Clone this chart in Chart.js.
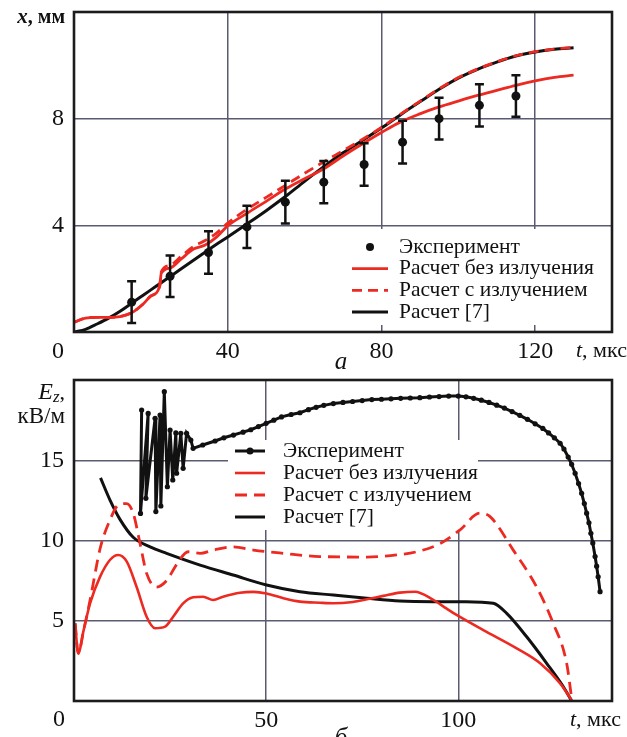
<!DOCTYPE html>
<html>
<head>
<meta charset="utf-8">
<script src="https://cdn.jsdelivr.net/npm/chart.js@4.4.1/dist/chart.umd.min.js"></script>
<style>
  body { margin: 0; background: #fff; width: 627px; height: 737px; overflow: hidden; }
  .panel { position: absolute; left: 0; width: 627px; }
</style>
</head>
<body>
<div class="panel" style="top:0;height:370px"><canvas id="chartA"></canvas></div>
<div class="panel" style="top:370px;height:367px"><canvas id="chartB"></canvas></div>
<script>
// ---- panel a: x(t), mm ----
const tCalcA  = [0, 3, 6, 9, 12, 15, 18, 20, 22.3, 22.7, 25, 28, 31, 34, 37, 40, 45, 50, 55, 60, 65, 70, 75, 80, 85, 90, 95, 100, 105, 110, 115, 120, 125, 130];
const xRef7A  = [0, 0.1, 0.3, 0.52, 0.78, 1.08, 1.38, 1.58, 1.81, 1.85, 2.08, 2.38, 2.68, 2.98, 3.28, 3.56, 4.05, 4.55, 5.08, 5.65, 6.2, 6.72, 7.18, 7.65, 8.15, 8.63, 9.1, 9.52, 9.85, 10.12, 10.35, 10.5, 10.6, 10.66];
const xNoRadA = [0.37, 0.52, 0.55, 0.55, 0.58, 0.72, 1.05, 1.35, 1.72, 2.2, 2.4, 2.75, 3.1, 3.25, 3.55, 3.98, 4.45, 4.9, 5.36, 5.75, 6.12, 6.6, 7.05, 7.48, 7.88, 8.18, 8.44, 8.66, 8.87, 9.06, 9.25, 9.42, 9.55, 9.63];
const xRadA   = [0.37, 0.52, 0.55, 0.55, 0.58, 0.72, 1.05, 1.35, 1.72, 2.25, 2.5, 2.85, 3.2, 3.42, 3.7, 4.08, 4.6, 5.05, 5.5, 5.95, 6.38, 6.8, 7.22, 7.67, 8.17, 8.65, 9.12, 9.54, 9.86, 10.13, 10.36, 10.51, 10.61, 10.67];
const tExpA   = [15, 25, 35, 45, 55, 65, 75.5, 85.5, 95, 105.5, 115];
const xExpA   = [1.12, 2.09, 2.98, 3.94, 4.87, 5.62, 6.28, 7.12, 8.0, 8.5, 8.85];
const xErrA   = [0.78, 0.78, 0.8, 0.79, 0.8, 0.79, 0.8, 0.8, 0.78, 0.79, 0.78];
const tTicksA = [40, 80, 120];
const xTicksA = [4, 8];

// ---- panel b: Ez(t), kV/m ----
const tExpB = [17.6, 17.3, 19.3, 18.7, 21.1, 21.3, 22.4, 22.6, 23.5, 24.3, 25.0, 25.7, 26.5, 26.7, 27.8, 28.4, 29.3, 30.4, 31,
  33.5, 36.7, 39, 41.5, 44, 46, 48, 50, 52, 54, 56.5, 58.8, 61, 63, 65, 67.5, 70, 72.5, 75, 77.5, 80, 82.5, 85, 87.5, 90, 92.5, 95, 97.5, 100,
  102, 104, 106, 108, 110, 112, 114, 116, 118, 120, 122, 123.5, 125, 126.5, 127.5, 128.6, 129.5, 130.4, 131.3, 132.1, 132.8, 133.4, 134, 134.5, 135, 135.6, 136, 136.4, 136.9];
const eExpB = [18.13, 11.69, 17.92, 12.63, 17.61, 11.8, 17.82, 12.15, 19.27, 13.35, 16.88, 13.77, 16.7, 14.19, 16.68, 14.5, 16.68, 16.26, 15.74,
  15.95, 16.2, 16.4, 16.57, 16.75, 16.9, 17.1, 17.3, 17.5, 17.7, 17.85, 17.96, 18.15, 18.3, 18.42, 18.53, 18.6, 18.66, 18.72, 18.78, 18.8, 18.83, 18.86, 18.88, 18.9, 18.94, 18.97, 19.0, 19.0,
  18.95, 18.86, 18.74, 18.6, 18.43, 18.25, 18.03, 17.8, 17.55, 17.27, 16.98, 16.7, 16.4, 16.06, 15.7, 15.2, 14.75, 14.19, 13.55, 12.94, 12.3, 11.7, 11.1, 10.45, 9.85, 9.0, 8.4, 7.74, 6.81];

const tNoRadB = [0.3, 1.1, 2.5, 4.2, 6.8, 9.4, 11.5, 13.7, 16.3, 18.9, 21.1, 23.7, 25.8, 28.4, 31, 33.6, 36.2, 38.8, 43.2, 46.7, 50.1, 54.5, 58.8, 64, 67.5, 72, 76.2, 80.5, 84.8, 88.7, 93.5, 97, 100, 106.5, 115.2, 121.3, 126.5, 129.5];
const eNoRadB = [4.84, 2.97, 4.4, 6.1, 7.75, 8.8, 9.1, 8.7, 7.1, 5.25, 4.53, 4.63, 5.25, 6.08, 6.46, 6.5, 6.29, 6.5, 6.75, 6.8, 6.7, 6.4, 6.19, 6.12, 6.09, 6.15, 6.34, 6.55, 6.75, 6.81, 6.3, 5.75, 5.3, 4.42, 3.28, 2.35, 1.1, 0.06];

const tRadB = [0.3, 1.1, 2.5, 4.2, 6.8, 9.4, 11.5, 13.7, 15.4, 17.2, 18.9, 21.5, 24.1, 26.7, 29.7, 32.8, 36.2, 41.4, 46.7, 54.5, 64, 76.2, 84, 89.2, 95.2, 100.4, 105.6, 108.2, 114.3, 120.4, 124.7, 128.2, 129.5];
const eRadB = [4.84, 2.97, 4.4, 6.3, 9.5, 11.3, 12.2, 12.3, 11.7, 9.8, 7.95, 7.1, 7.5, 8.5, 9.3, 9.2, 9.4, 9.6, 9.4, 9.2, 9.0, 8.97, 9.1, 9.3, 9.8, 10.65, 11.7, 11.5, 9.4, 7.1, 4.84, 2.35, 0.17];

const tRef7B = [6.9, 9.4, 12, 15.4, 19.8, 24.1, 32.8, 41.4, 50.1, 58.8, 67.5, 76.2, 84.8, 93.5, 102, 109.1, 112.6, 117.8, 123, 127.3, 129.5];
const eRef7B = [13.9, 12.5, 11.3, 10.2, 9.6, 9.2, 8.47, 7.85, 7.23, 6.81, 6.6, 6.4, 6.23, 6.19, 6.19, 6.09, 5.46, 4.0, 2.35, 0.9, 0];
const tTicksB = [50, 100];
const eTicksB = [5, 10, 15];

const seriesNames = ['Эксперимент', 'Расчет без излучения', 'Расчет с излучением', 'Расчет [7]'];

const RED = '#ec2a22';
const BLACK = '#111111';
const GRID = '#5a5a70';
const SERIF = '"Liberation Serif", "DejaVu Serif", serif';

function pts(xs, ys) {
  return xs.map((x, i) => ({ x: x, y: ys[i] }));
}
function font(style, size) {
  return style + ' ' + size + 'px ' + SERIF;
}

// draws a run of differently styled text pieces
function drawRuns(ctx, runs, x, y, align) {
  const widths = runs.map(r => { ctx.font = r.font; return ctx.measureText(r.text).width; });
  const total = widths.reduce((a, b) => a + b, 0);
  let cx = align === 'right' ? x - total : (align === 'center' ? x - total / 2 : x);
  runs.forEach((r, i) => {
    ctx.font = r.font;
    ctx.fillText(r.text, cx, y + (r.dy || 0));
    cx += widths[i];
  });
}

// legend box (under the data), error bars, frame and captions
const panelDecor = {
  id: 'panelDecor',
  beforeDatasetsDraw(chart, args, opts) {
    const ctx = chart.ctx;
    const lg = opts.legend;
    ctx.save();
    ctx.fillStyle = '#fff';
    ctx.fillRect(lg.boxX, lg.boxY, lg.boxW, lg.boxH);
    ctx.textBaseline = 'middle';
    ctx.textAlign = 'left';
    chart.data.datasets.forEach((ds, i) => {
      const y = lg.y + i * lg.rowH;
      if (ds.showLine !== false) {
        ctx.strokeStyle = ds.borderColor;
        ctx.lineWidth = ds.borderWidth;
        ctx.setLineDash(ds.borderDash || []);
        ctx.beginPath();
        ctx.moveTo(lg.x, y); ctx.lineTo(lg.x + lg.len, y);
        ctx.stroke();
        ctx.setLineDash([]);
      }
      if (ds.pointRadius > 0) {
        ctx.fillStyle = BLACK;
        ctx.beginPath();
        ctx.arc(lg.x + lg.len / 2, y, lg.dot, 0, Math.PI * 2);
        ctx.fill();
      }
      ctx.fillStyle = BLACK;
      ctx.font = font('', lg.size);
      ctx.fillText(ds.label, lg.textX, y);
    });
    ctx.restore();
  },
  afterDatasetsDraw(chart) {
    const ctx = chart.ctx, area = chart.chartArea;
    const xs = chart.scales.x, ys = chart.scales.y;
    ctx.save();
    chart.data.datasets.forEach(ds => {
      if (!ds.errorBars) return;
      ctx.strokeStyle = BLACK;
      ctx.lineWidth = 2.5;
      ds.data.forEach((p, i) => {
        const px = xs.getPixelForValue(p.x);
        const top = ys.getPixelForValue(p.y + ds.errorBars[i]);
        const bot = ys.getPixelForValue(p.y - ds.errorBars[i]);
        ctx.beginPath();
        ctx.moveTo(px, top); ctx.lineTo(px, bot);
        ctx.moveTo(px - 4.5, top); ctx.lineTo(px + 4.5, top);
        ctx.moveTo(px - 4.5, bot); ctx.lineTo(px + 4.5, bot);
        ctx.stroke();
      });
    });
    ctx.strokeStyle = '#1c1c1c';
    ctx.lineWidth = 2.6;
    ctx.strokeRect(area.left, area.top, area.right - area.left, area.bottom - area.top);
    ctx.restore();
  },
  afterDraw(chart, args, opts) {
    const ctx = chart.ctx;
    ctx.save();
    ctx.fillStyle = BLACK;
    ctx.textBaseline = 'middle';
    ctx.textAlign = 'left';
    opts.captions.forEach(c => drawRuns(ctx, c.runs, c.x, c.y, c.align));
    ctx.restore();
  }
};

function makePanel(canvasId, cfg) {
  return new Chart(document.getElementById(canvasId), {
    type: 'line',
    data: { datasets: cfg.datasets },
    options: {
      responsive: true,
      maintainAspectRatio: false,
      animation: false,
      layout: { padding: cfg.padding },
      plugins: {
        legend: { display: false },
        tooltip: { enabled: false },
        panelDecor: { legend: cfg.legend, captions: cfg.captions }
      },
      scales: {
        x: {
          type: 'linear',
          min: 0,
          max: 140,
          border: { display: false },
          grid: { color: GRID, lineWidth: 1.5, drawTicks: false },
          ticks: {
            stepSize: cfg.xStep,
            padding: 5,
            color: BLACK,
            font: { family: SERIF, size: 24 },
            maxRotation: 0,
            callback: v => cfg.xLabels.includes(v) ? String(v) : ''
          },
          afterFit: s => { s.height = cfg.xAxisHeight; s.paddingLeft = 0; s.paddingRight = 0; }
        },
        y: {
          type: 'linear',
          min: 0,
          max: cfg.yMax,
          border: { display: false },
          grid: { color: GRID, lineWidth: 1.5, drawTicks: false },
          ticks: {
            stepSize: cfg.yStep,
            padding: 10,
            color: BLACK,
            font: { family: SERIF, size: 24 },
            callback: v => cfg.yLabels.includes(v) ? String(v) : ''
          },
          afterFit: s => { s.width = 74; s.paddingTop = 0; s.paddingBottom = 0; }
        }
      }
    },
    plugins: [panelDecor]
  });
}

// panel a
makePanel('chartA', {
  padding: { left: 0, right: 15, top: 12, bottom: 0 },
  xAxisHeight: 38,
  xStep: 40, xLabels: tTicksA,
  yMax: 12, yStep: 4, yLabels: xTicksA,
  datasets: [
    {
      label: seriesNames[0], data: pts(tExpA, xExpA), errorBars: xErrA,
      showLine: false, borderColor: BLACK, pointRadius: 4.5,
      pointBackgroundColor: BLACK, pointBorderWidth: 0
    },
    {
      label: seriesNames[1], data: pts(tCalcA, xNoRadA),
      borderColor: RED, borderWidth: 2.8, pointRadius: 0, cubicInterpolationMode: 'monotone'
    },
    {
      label: seriesNames[2], data: pts(tCalcA, xRadA),
      borderColor: RED, borderWidth: 2.8, borderDash: [10, 6], pointRadius: 0, cubicInterpolationMode: 'monotone'
    },
    {
      label: seriesNames[3], data: pts(tCalcA, xRef7A),
      borderColor: BLACK, borderWidth: 3, pointRadius: 0, cubicInterpolationMode: 'monotone'
    }
  ],
  legend: { x: 352, len: 36, textX: 399, y: 247, rowH: 21.7, size: 21.5, dot: 4, boxX: 345, boxY: 229, boxW: 255, boxH: 96 },
  captions: [
    { runs: [{ text: 'x', font: font('italic bold', 21) }, { text: ', мм', font: font('bold', 20) }], x: 65, y: 18, align: 'right' },
    { runs: [{ text: '0', font: font('', 24) }], x: 58, y: 352, align: 'center' },
    { runs: [{ text: 't', font: font('italic', 22) }, { text: ', мкс', font: font('', 22) }], x: 576, y: 351, align: 'left' },
    { runs: [{ text: 'а', font: font('italic', 25) }], x: 341, y: 362, align: 'center' }
  ]
});

// panel b
makePanel('chartB', {
  padding: { left: 0, right: 15, top: 10, bottom: 0 },
  xAxisHeight: 36,
  xStep: 50, xLabels: tTicksB,
  yMax: 20, yStep: 5, yLabels: eTicksB,
  datasets: [
    {
      label: seriesNames[0], data: pts(tExpB, eExpB),
      borderColor: BLACK, borderWidth: 3, pointRadius: 2.6,
      pointBackgroundColor: BLACK, pointBorderWidth: 0, tension: 0
    },
    {
      label: seriesNames[1], data: pts(tNoRadB, eNoRadB),
      borderColor: RED, borderWidth: 2.6, pointRadius: 0, cubicInterpolationMode: 'monotone'
    },
    {
      label: seriesNames[2], data: pts(tRadB, eRadB),
      borderColor: RED, borderWidth: 2.8, borderDash: [12, 7], pointRadius: 0, cubicInterpolationMode: 'monotone'
    },
    {
      label: seriesNames[3], data: pts(tRef7B, eRef7B),
      borderColor: BLACK, borderWidth: 3, pointRadius: 0, cubicInterpolationMode: 'monotone'
    }
  ],
  legend: { x: 235, len: 30, textX: 283, y: 81, rowH: 22, size: 21.5, dot: 3.5, boxX: 228, boxY: 70, boxW: 250, boxH: 90 },
  captions: [
    { runs: [{ text: 'E', font: font('italic', 24) }, { text: 'z', font: font('italic', 17), dy: 5 }, { text: ',', font: font('', 22) }], x: 65, y: 23, align: 'right' },
    { runs: [{ text: 'кВ/м', font: font('', 23) }], x: 65, y: 47, align: 'right' },
    { runs: [{ text: '0', font: font('', 24) }], x: 59, y: 350, align: 'center' },
    { runs: [{ text: 't', font: font('italic', 22) }, { text: ', мкс', font: font('', 22) }], x: 570, y: 350, align: 'left' },
    { runs: [{ text: 'б', font: font('italic', 25) }], x: 341, y: 368, align: 'center' }
  ]
});
</script>
</body>
</html>
